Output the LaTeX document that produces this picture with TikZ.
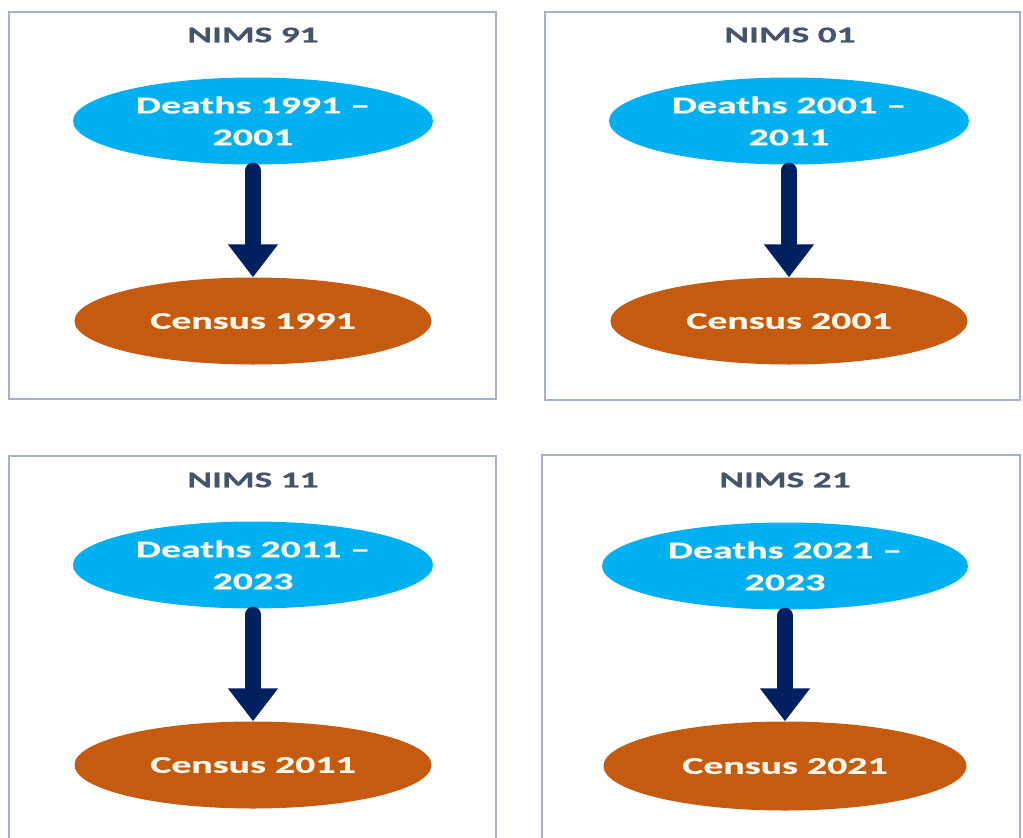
\documentclass[tikz,border=0pt]{standalone}
\usepackage{fontspec}
\newfontfamily\calib[FakeStretch=1.66, BoldFeatures={FakeBold=0.6}]{Carlito}
\usepackage{tikz}
\usetikzlibrary{arrows.meta,shapes.geometric,positioning}
\usepackage{xcolor}
\definecolor{nimsblue}{RGB}{0,176,240}
\definecolor{nimsorange}{RGB}{197,90,17}
\definecolor{nimsnavy}{RGB}{0,32,96}
\definecolor{nimsslate}{RGB}{68,84,106}
\definecolor{nimsframe}{RGB}{165,178,198}
\definecolor{nimscream}{RGB}{255,247,234}
\tikzstyle{panel} = [draw=nimsframe, line width=1.4pt, fill=white]
\tikzstyle{title} = [font=\calib\bfseries\fontsize{22.5}{26}\selectfont, text=nimsslate]
\tikzstyle{deaths} = [ellipse, fill=nimsblue, minimum width=360pt, minimum height=87pt, inner sep=0pt, text=nimscream, align=center, font=\calib\bfseries\fontsize{24}{32}\selectfont]
\tikzstyle{census} = [ellipse, fill=nimsorange, minimum width=357pt, minimum height=87pt, inner sep=0pt, text=nimscream, font=\calib\bfseries\fontsize{24}{32}\selectfont]
\tikzstyle{arrow} = [line width=16pt, color=nimsnavy, line cap=round, shorten <=6pt, -{Triangle[width=48pt,length=33pt]}]

\begin{document}
\begin{tikzpicture}[x=1pt, y=-1pt, node distance=200pt]
\useasboundingbox (0,0) rectangle (1023,838);
\fill[white] (0,0) rectangle (1023,838);
\clip (0,0) rectangle (1023,838);

% Frames
\draw[panel] (9,12) rectangle (496,399);
\draw[panel] (545,12) rectangle (1020,400);
\draw[panel] (9,456) rectangle (496,850);
\draw[panel] (542,455) rectangle (1020,850);

% NIMS 91
\node (t91) [title] at (253,35) {NIMS 91};
\node (d91) [deaths] at (253,121) {Deaths 1991 –\\2001};
\node (c91) [census, below of=d91] {Census 1991};
\draw[arrow] (d91) -- (c91);

% NIMS 01
\node (t01) [title] at (790,35) {NIMS 01};
\node (d01) [deaths] at (789,121) {Deaths 2001 –\\2011};
\node (c01) [census, below of=d01] {Census 2001};
\draw[arrow] (d01) -- (c01);

% NIMS 11
\node (t11) [title] at (253,480) {NIMS 11};
\node (d11) [deaths] at (253,565) {Deaths 2011 –\\2023};
\node (c11) [census, below of=d11] {Census 2011};
\draw[arrow] (d11) -- (c11);

% NIMS 21
\node (t21) [title] at (785,480) {NIMS 21};
\node (d21) [deaths, minimum width=366pt] at (785,566) {Deaths 2021 –\\2023};
\node (c21) [census, minimum width=363pt, minimum height=89pt, below of=d21] {Census 2021};
\draw[arrow] (d21) -- (c21);
\end{tikzpicture}
\end{document}
